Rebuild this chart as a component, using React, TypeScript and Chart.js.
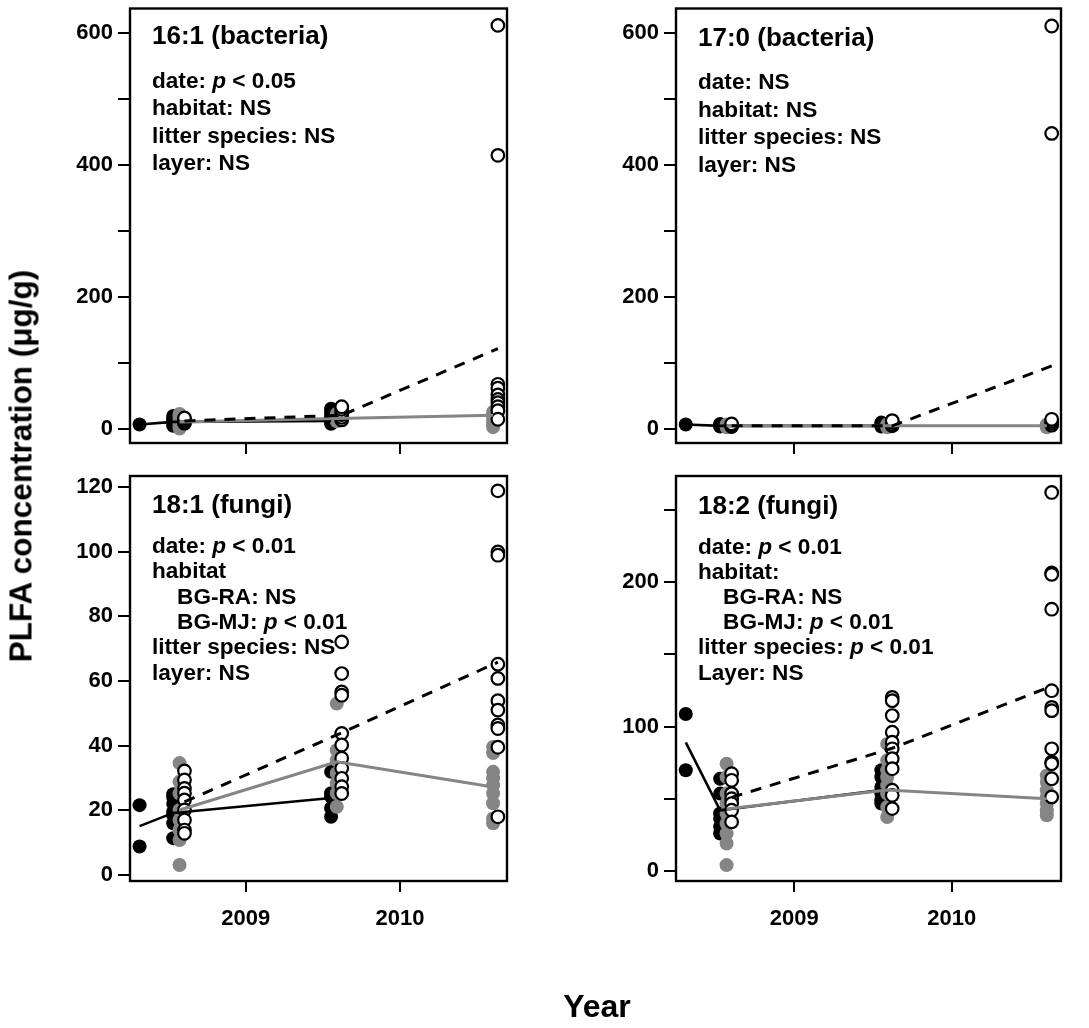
import React, { useEffect, useRef } from 'react';
import { Chart, registerables } from 'chart.js';

Chart.register(...registerables);

const FONT = '"Liberation Sans", Arial, Helvetica, sans-serif';
const GRAY = '#858585';

// Sampling dates (decimal years) used by each symbol group
const blackDates = [2008.312, 2008.53, 2009.553];
const grayDates = [2008.571, 2009.59, 2010.603];
const openDates = [2008.603, 2009.622, 2010.634];

// x axis
const xTicks = [2009, 2010];
const xMin = 2008.25;
const xMax = 2010.693;

// ---- 16:1 (bacteria)
const p1Black = [[7], [5, 9, 13, 17, 20], [8, 11, 15, 20, 26, 31]];
const p1Gray = [[1, 5, 9, 13, 18, 23], [12, 15, 19, 23], [3, 9, 15, 21, 26]];
const p1Open = [[9, 11, 13, 15, 17], [14, 18, 22, 26, 30, 34], [612, 415, 68, 62, 52, 45, 40, 34, 28, 15]];
const p1BlackLine = [7, 11, 12.5];
const p1GrayLine = [11, 16, 21];
const p1OpenLine = [12.5, 21, 122];
const p1YTicks = [0, 100, 200, 300, 400, 500, 600];
const p1YLabels = [0, 200, 400, 600];

// ---- 17:0 (bacteria)
const p2Black = [[6], [3, 5, 7], [3, 6, 9]];
const p2Gray = [[2, 4, 6], [2, 4, 6], [2, 4, 6]];
const p2Open = [[3, 5, 7], [4, 6, 9, 12], [611, 448, 5, 8, 11, 14]];
const p2BlackLine = [6, 4, 4];
const p2GrayLine = [4, 4, 4];
const p2OpenLine = [4, 4, 95];
const p2YTicks = [0, 100, 200, 300, 400, 500, 600];
const p2YLabels = [0, 200, 400, 600];

// ---- 18:1 (fungi)
const p3Black = [[21.6, 8.8], [25, 24, 22, 19.6, 18.5, 16, 11.4], [31.9, 25.3, 24.2, 20.7, 18]];
const p3Gray = [[34.6, 28.8, 25.2, 20.1, 17, 13.9, 10.8, 3.1], [53, 38.6, 35.5, 31.5, 28.4, 25.3, 21.1], [39.6, 37.7, 31.9, 29.9, 27.8, 25.2, 22.2, 17.5, 16]];
const p3Open = [[32.2, 29.4, 26.8, 25.3, 23.2, 20.1, 17, 13.9, 12.9], [72.1, 62.3, 56.6, 55.6, 43.8, 40.2, 36.1, 33, 29.9, 27.3, 25.2], [118.8, 99.9, 98.9, 65.2, 60.8, 53.9, 51, 46.4, 45.3, 39.5, 18]];
const p3BlackLine = [15.1, 19.2, 23.8];
const p3GrayLine = [20.1, 35, 27.2];
const p3OpenLine = [22.6, 44, 65.8];
const p3YTicks = [0, 20, 40, 60, 80, 100, 120];
const p3YLabels = [0, 20, 40, 60, 80, 100, 120];

// ---- 18:2 (fungi)
const p4Black = [[108.7, 69.7], [63.9, 53.6, 39.8, 36.3, 30.6, 26], [69.7, 65, 58.2, 53.6, 49, 46.7]];
const p4Gray = [[74.3, 65, 53.6, 46.7, 39.8, 32.9, 26, 19.1, 4.1], [88, 76.6, 69.7, 65, 59.3, 53.6, 44.3, 37.4], [66.2, 61.6, 55.9, 51.3, 46.7, 42.1, 38.6]];
const p4Open = [[67.4, 62.8, 53.6, 50.1, 46.7, 42.1, 34], [120.2, 117.9, 107.6, 96.1, 89.2, 84.6, 77.7, 70.8, 55.9, 52.4, 43.2], [262, 206.3, 205.3, 181.2, 124.8, 113.3, 111, 84.6, 75.4, 74.3, 63.9, 51.3]];
const p4BlackLine = [89, 42, 56];
const p4GrayLine = [43, 56, 50];
const p4OpenLine = [51, 85, 128];
const p4YTicks = [0, 50, 100, 150, 200, 250];
const p4YLabels = [0, 100, 200];

// Panel texts
const p1Title = '16:1 (bacteria)';
const p1Notes = ['date: *p* < 0.05', 'habitat: NS', 'litter species: NS', 'layer: NS'];
const p2Title = '17:0 (bacteria)';
const p2Notes = ['date: NS', 'habitat: NS', 'litter species: NS', 'layer: NS'];
const p3Title = '18:1 (fungi)';
const p3Notes = ['date: *p* < 0.01', 'habitat', '    BG-RA: NS', '    BG-MJ: *p* < 0.01', 'litter species: NS', 'layer: NS'];
const p4Title = '18:2 (fungi)';
const p4Notes = ['date: *p* < 0.01', 'habitat:', '    BG-RA: NS', '    BG-MJ: *p* < 0.01', 'litter species: *p* < 0.01', 'Layer: NS'];

const yTitle = 'PLFA concentration (μg/g)';
const xTitle = 'Year';

type PanelCfg = {
  left: number; top: number; w: number; h: number;
  boxTop: number; boxBottom: number; boxRight: number;
  xLabels: boolean;
  yMin: number; yMax: number; yTicks: number[]; yLabels: number[];
  black: number[][]; gray: number[][]; open: number[][];
  blackLine: number[]; grayLine: number[]; openLine: number[];
  title: string; notes: string[];
  textLeft: number; titleY: number; noteY: number; noteStep: number;
};

const panels: PanelCfg[] = [
  {
    left: 0, top: 0, w: 546, h: 460, boxTop: 5, boxBottom: 443, boxRight: 507, xLabels: false,
    yMin: -21, yMax: 637.6, yTicks: p1YTicks, yLabels: p1YLabels,
    black: p1Black, gray: p1Gray, open: p1Open, blackLine: p1BlackLine, grayLine: p1GrayLine, openLine: p1OpenLine,
    title: p1Title, notes: p1Notes, textLeft: 152, titleY: 34.5, noteY: 80.5, noteStep: 27.6,
  },
  {
    left: 546, top: 0, w: 543, h: 460, boxTop: 5, boxBottom: 443, boxRight: 515, xLabels: false,
    yMin: -22, yMax: 637.6, yTicks: p2YTicks, yLabels: p2YLabels,
    black: p2Black, gray: p2Gray, open: p2Open, blackLine: p2BlackLine, grayLine: p2GrayLine, openLine: p2OpenLine,
    title: p2Title, notes: p2Notes, textLeft: 698, titleY: 36.5, noteY: 82, noteStep: 27.7,
  },
  {
    left: 0, top: 460, w: 546, h: 568, boxTop: 16, boxBottom: 421, boxRight: 507, xLabels: true,
    yMin: -1.86, yMax: 123.4, yTicks: p3YTicks, yLabels: p3YLabels,
    black: p3Black, gray: p3Gray, open: p3Open, blackLine: p3BlackLine, grayLine: p3GrayLine, openLine: p3OpenLine,
    title: p3Title, notes: p3Notes, textLeft: 152, titleY: 504, noteY: 546, noteStep: 25.3,
  },
  {
    left: 546, top: 460, w: 543, h: 568, boxTop: 16, boxBottom: 421, boxRight: 515, xLabels: true,
    yMin: -6.9, yMax: 273.4, yTicks: p4YTicks, yLabels: p4YLabels,
    black: p4Black, gray: p4Gray, open: p4Open, blackLine: p4BlackLine, grayLine: p4GrayLine, openLine: p4OpenLine,
    title: p4Title, notes: p4Notes, textLeft: 698, titleY: 505, noteY: 546.6, noteStep: 25.2,
  },
];

const boxPlugin = {
  id: 'plotBox',
  afterDraw(chart: any) {
    const { ctx, chartArea: a } = chart;
    ctx.save();
    ctx.strokeStyle = '#000';
    ctx.lineWidth = 2.4;
    ctx.strokeRect(a.left, a.top, a.right - a.left, a.bottom - a.top);
    ctx.restore();
  },
};

function groupPoints(dates: number[], groups: number[][]) {
  const out: { x: number; y: number }[] = [];
  groups.forEach((g, i) => g.forEach((v) => out.push({ x: dates[i], y: v })));
  return out;
}

function linePoints(dates: number[], vals: number[]) {
  return vals.map((v, i) => ({ x: dates[i], y: v }));
}

function zeroPadding(s: any) {
  s.paddingTop = 0;
  s.paddingBottom = 0;
  s.paddingLeft = 0;
  s.paddingRight = 0;
}

function Panel({ p }: { p: PanelCfg }) {
  const ref = useRef<HTMLCanvasElement>(null);
  useEffect(() => {
    const xH = p.xLabels ? 50 : 17;
    const tickFont = { family: FONT, size: 22, weight: 'bold' as const };
    const chart = new Chart(ref.current as HTMLCanvasElement, {
      type: 'scatter',
      data: {
        datasets: [
          {
            data: linePoints(openDates, p.openLine), showLine: true, borderColor: '#000', borderWidth: 3,
            borderDash: [11, 9], pointRadius: 0, fill: false, order: 0,
          } as any,
          {
            data: linePoints(grayDates, p.grayLine), showLine: true, borderColor: GRAY, borderWidth: 3,
            pointRadius: 0, fill: false, order: 1,
          } as any,
          {
            data: linePoints(blackDates, p.blackLine), showLine: true, borderColor: '#000', borderWidth: 2.6,
            pointRadius: 0, fill: false, order: 2,
          } as any,
          {
            data: groupPoints(openDates, p.open), pointRadius: 6.3, pointBorderWidth: 2.2,
            pointBackgroundColor: '#fff', pointBorderColor: '#000', order: 3,
          } as any,
          {
            data: groupPoints(grayDates, p.gray), pointRadius: 7, pointBorderWidth: 0,
            pointBackgroundColor: GRAY, pointBorderColor: GRAY, order: 4,
          } as any,
          {
            data: groupPoints(blackDates, p.black), pointRadius: 7, pointBorderWidth: 0,
            pointBackgroundColor: '#000', pointBorderColor: '#000', order: 5,
          } as any,
        ],
      },
      options: {
        animation: false,
        responsive: false,
        maintainAspectRatio: false,
        devicePixelRatio: 1,
        events: [],
        layout: {
          padding: { left: 0, top: p.boxTop, right: p.w - p.boxRight, bottom: p.h - p.boxBottom - xH },
        },
        plugins: { legend: { display: false }, tooltip: { enabled: false }, title: { display: false } },
        scales: {
          x: {
            type: 'linear', min: xMin, max: xMax, bounds: 'data',
            afterBuildTicks: (s: any) => { s.ticks = xTicks.map((v) => ({ value: v })); },
            afterFit: (s: any) => { s.height = xH; zeroPadding(s); },
            ticks: {
              callback: (v: any) => (p.xLabels ? String(v) : ''),
              font: tickFont, color: '#000', padding: 14, maxRotation: 0, autoSkip: false,
            },
            grid: { drawOnChartArea: false, drawTicks: true, tickLength: 11, color: '#000', lineWidth: 2 },
            border: { display: false },
          },
          y: {
            type: 'linear', min: p.yMin, max: p.yMax, bounds: 'data',
            afterBuildTicks: (s: any) => { s.ticks = p.yTicks.map((v) => ({ value: v })); },
            afterFit: (s: any) => { s.width = 130; zeroPadding(s); },
            ticks: {
              callback: (v: any) => (p.yLabels.includes(v) ? String(v) : ''),
              font: tickFont, color: '#000', padding: 5, autoSkip: false,
            },
            grid: { drawOnChartArea: false, drawTicks: true, tickLength: 12, color: '#000', lineWidth: 2 },
            border: { display: false },
          },
        } as any,
      },
      plugins: [boxPlugin],
    });
    return () => chart.destroy();
  }, []);
  return (
    <canvas
      ref={ref}
      width={p.w}
      height={p.h}
      style={{ position: 'absolute', left: p.left, top: p.top, width: p.w, height: p.h }}
    />
  );
}

function renderNote(s: string) {
  return s.split('*').map((t, i) => (i % 2 === 1 ? <i key={i}>{t}</i> : <span key={i}>{t}</span>));
}

function PanelText({ p }: { p: PanelCfg }) {
  const titleH = 30;
  const noteH = 24;
  return (
    <>
      <div
        style={{
          position: 'absolute', left: p.textLeft, top: p.titleY - titleH / 2, height: titleH,
          lineHeight: titleH + 'px', fontSize: 26, fontWeight: 'bold', fontFamily: FONT, whiteSpace: 'pre', color: '#000',
        }}
      >
        {p.title}
      </div>
      {p.notes.map((n, i) => (
        <div
          key={i}
          style={{
            position: 'absolute', left: p.textLeft, top: p.noteY + i * p.noteStep - noteH / 2, height: noteH,
            lineHeight: noteH + 'px', fontSize: 22.6, fontWeight: 'bold', fontFamily: FONT, whiteSpace: 'pre', color: '#000',
          }}
        >
          {renderNote(n)}
        </div>
      ))}
    </>
  );
}

export default function App() {
  useEffect(() => {
    document.body.style.margin = '0';
  }, []);
  return (
    <div style={{ position: 'absolute', left: 0, top: 0, width: 1089, height: 1028, background: '#fff', overflow: 'hidden' }}>
      {panels.map((p, i) => (
        <Panel key={i} p={p} />
      ))}
      {panels.map((p, i) => (
        <PanelText key={'t' + i} p={p} />
      ))}
      <div
        style={{
          position: 'absolute', left: 21, top: 466, transform: 'translate(-50%, -50%) rotate(-90deg)',
          fontSize: 31.5, lineHeight: '31px', fontWeight: 'bold', fontFamily: FONT, whiteSpace: 'nowrap', color: '#000',
        }}
      >
        {yTitle}
      </div>
      <div
        style={{
          position: 'absolute', left: 597, top: 1006, transform: 'translate(-50%, -50%)',
          fontSize: 32, lineHeight: '32px', fontWeight: 'bold', fontFamily: FONT, whiteSpace: 'nowrap', color: '#000',
        }}
      >
        {xTitle}
      </div>
    </div>
  );
}
